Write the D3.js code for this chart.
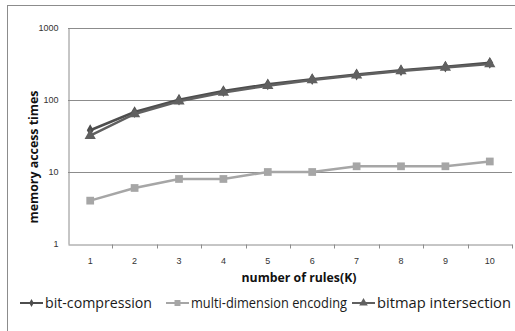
<!DOCTYPE html>
<html>
<head>
<meta charset="utf-8">
<script src="https://cdn.jsdelivr.net/npm/d3@7"></script>
<style>
  html, body { margin: 0; padding: 0; background: #fff; }
  svg { display: block; font-family: "Open Sans", "Liberation Sans", sans-serif; }
</style>
</head>
<body>
<svg id="chart" width="515" height="331"></svg>
<script>
// Number of rules (thousands)
const categories = ["1", "2", "3", "4", "5", "6", "7", "8", "9", "10"];
// Memory access times per scheme
const bitCompression = [38, 68, 101, 133, 165, 195, 226, 258, 290, 328];
const multiDimension = [4, 6, 8, 8, 10, 10, 12, 12, 12, 14];
const bitmapIntersection = [32, 64, 96, 127, 158, 190, 220, 252, 283, 315];
const yTicks = [1, 10, 100, 1000];
const seriesNames = ["bit-compression", "multi-dimension encoding", "bitmap intersection"];

const series = [
  { name: seriesNames[0], values: bitCompression, color: "#4d4d4d", marker: "diamond", legendX: 20, textLen: 107 },
  { name: seriesNames[1], values: multiDimension, color: "#a6a6a6", marker: "square", legendX: 166, textLen: 156 },
  { name: seriesNames[2], values: bitmapIntersection, color: "#606060", marker: "triangle", legendX: 352, textLen: 134 }
];

const svg = d3.select("#chart");
const plot = { left: 68, right: 512, top: 28, bottom: 244 };

// Outer frame
svg.append("rect")
  .attr("x", 7.5).attr("y", 5.5)
  .attr("width", 520).attr("height", 340)
  .attr("fill", "none").attr("stroke", "#8c8c8c").attr("stroke-width", 1);

const x = d3.scaleBand().domain(categories).range([plot.left, plot.right]);
const y = d3.scaleLog().domain([1, 1000]).range([plot.bottom, plot.top]);

// Horizontal gridlines
svg.append("g").selectAll("line")
  .data(yTicks.slice(1))
  .join("line")
  .attr("x1", plot.left).attr("x2", plot.right)
  .attr("y1", d => Math.round(y(d)) + 0.5).attr("y2", d => Math.round(y(d)) + 0.5)
  .attr("stroke", "#8c8c8c").attr("stroke-width", 1);

// Y axis
const yAxis = svg.append("g")
  .attr("transform", `translate(${plot.left + 0.5},0)`)
  .call(d3.axisLeft(y).tickValues(yTicks).tickFormat(d3.format("d")).tickSize(0).tickPadding(10));
yAxis.select(".domain").attr("stroke", "#8c8c8c");
yAxis.selectAll("text").attr("font-size", 9).attr("fill", "#333");

// X axis with tick marks at category boundaries
const xAxis = svg.append("g")
  .attr("transform", `translate(0,${Math.round(plot.bottom) + 0.5})`)
  .call(d3.axisBottom(x).tickSize(0).tickPadding(13));
xAxis.select(".domain").attr("stroke", "#8c8c8c");
xAxis.selectAll("text").attr("font-size", 9).attr("fill", "#333");
xAxis.selectAll(".boundary")
  .data(categories)
  .join("line")
  .attr("class", "boundary")
  .attr("x1", d => Math.round(x(d) + x.bandwidth()) + 0.5)
  .attr("x2", d => Math.round(x(d) + x.bandwidth()) + 0.5)
  .attr("y1", 0).attr("y2", 4)
  .attr("stroke", "#8c8c8c");

// Axis titles
svg.append("text")
  .attr("x", 299).attr("y", 282)
  .attr("text-anchor", "middle")
  .attr("font-size", 13).attr("font-weight", "bold").attr("fill", "#111")
  .attr("textLength", 115).attr("lengthAdjust", "spacingAndGlyphs")
  .text("number of rules(K)");
svg.append("text")
  .attr("transform", "translate(38,157) rotate(-90)")
  .attr("text-anchor", "middle")
  .attr("font-size", 13).attr("font-weight", "bold").attr("fill", "#111")
  .attr("textLength", 133).attr("lengthAdjust", "spacingAndGlyphs")
  .text("memory access times");

const markerSymbol = {
  diamond: d3.symbol().type(d3.symbolDiamond).size(40),
  square: d3.symbol().type(d3.symbolSquare).size(60),
  triangle: d3.symbol().type(d3.symbolTriangle).size(55)
};
const legendSymbol = {
  diamond: d3.symbol().type(d3.symbolDiamond).size(18),
  square: d3.symbol().type(d3.symbolSquare).size(36),
  triangle: d3.symbol().type(d3.symbolTriangle).size(32)
};

const line = d3.line()
  .x((d, i) => x(categories[i]) + x.bandwidth() / 2)
  .y(d => y(d));

// Lines and markers
series.forEach(s => {
  const g = svg.append("g");
  g.append("path")
    .attr("d", line(s.values))
    .attr("fill", "none").attr("stroke", s.color).attr("stroke-width", 2.5);
  g.selectAll("path.mark")
    .data(s.values)
    .join("path")
    .attr("class", "mark")
    .attr("transform", (d, i) => `translate(${x(categories[i]) + x.bandwidth() / 2},${y(d)})`)
    .attr("d", markerSymbol[s.marker])
    .attr("fill", s.color);
});

// Legend
const legend = svg.append("g");
series.forEach(s => {
  const lx = s.legendX;
  const ly = 303;
  legend.append("line")
    .attr("x1", lx).attr("x2", lx + 23)
    .attr("y1", ly).attr("y2", ly)
    .attr("stroke", s.color).attr("stroke-width", 2);
  legend.append("path")
    .attr("transform", `translate(${lx + 11.5},${ly})`)
    .attr("d", legendSymbol[s.marker])
    .attr("fill", s.color);
  legend.append("text")
    .attr("x", lx + 25).attr("y", ly + 5)
    .attr("font-size", 14.5).attr("fill", "#1a1a1a")
    .attr("textLength", s.textLen).attr("lengthAdjust", "spacingAndGlyphs")
    .text(s.name);
});
</script>
</body>
</html>
